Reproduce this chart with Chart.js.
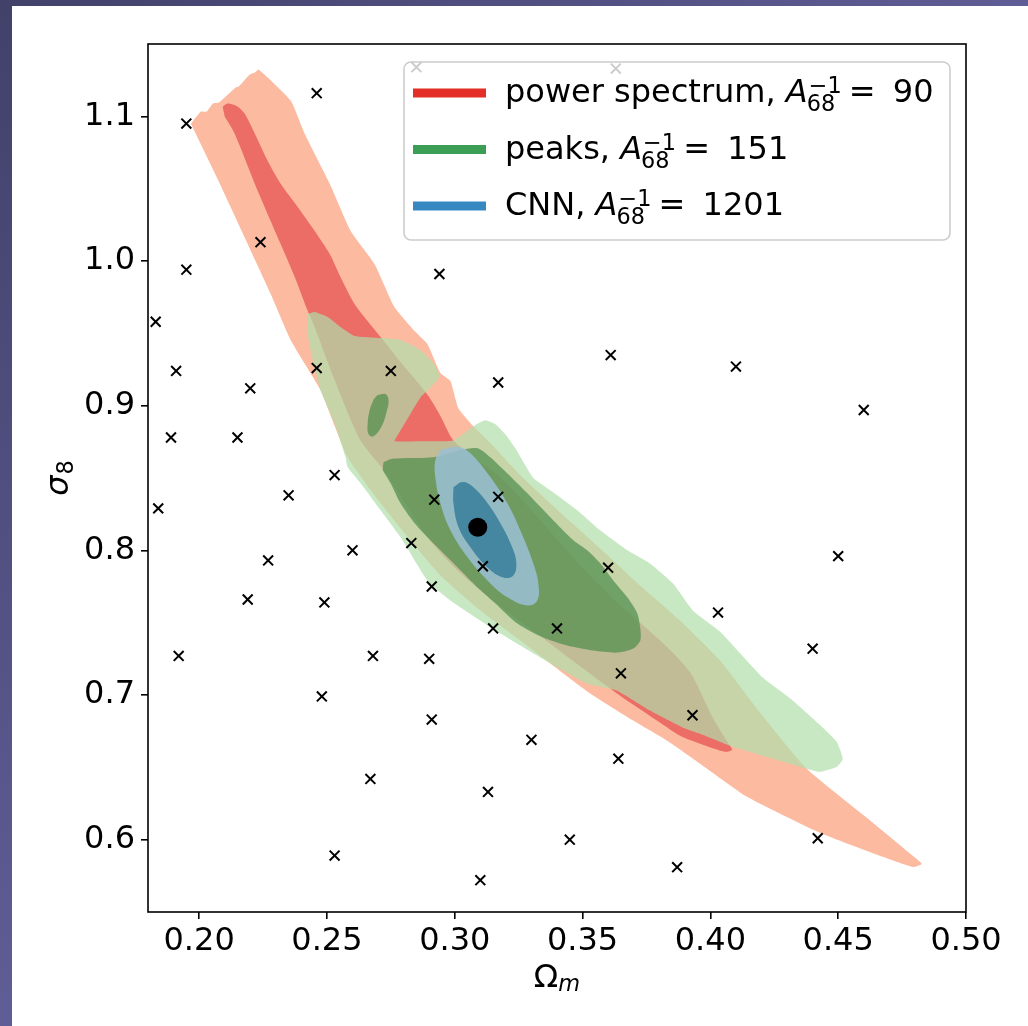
<!DOCTYPE html>
<html>
<head>
<meta charset="utf-8">
<script src="https://cdn.jsdelivr.net/npm/chart.js@4.4.1/dist/chart.umd.min.js"></script>
<style>
  html, body { margin: 0; padding: 0; }
  body {
    width: 1028px; height: 1026px; overflow: hidden;
    background: linear-gradient(135deg, #42416a 0%, #5f5d95 50%, #7c79b8 100%);
  }
  #panel { position: absolute; left: 12px; top: 6px; width: 1016px; height: 1020px; background: #fff; }
</style>
</head>
<body>
<div id="panel"><canvas id="contours" width="1016" height="1020"></canvas></div>
<script>
// axis ticks
const xTicks = [0.20, 0.25, 0.30, 0.35, 0.40, 0.45, 0.50];
const yTicks = [0.6, 0.7, 0.8, 0.9, 1.0, 1.1];

// legend rows
const legendNames = ['power spectrum', 'peaks', 'CNN'];
const legendA68 = [90, 151, 1201];
const legendColors = ['#e32f27', '#3a9f55', '#3787c0'];

// fiducial cosmology
const fiducial = [[0.309, 0.816]];

// simulated cosmologies (Omega_m, sigma_8)
const simPoints = [
  [0.195, 1.095], [0.285, 1.134], [0.363, 1.133], [0.246, 1.116], [0.224, 1.013],
  [0.195, 0.994], [0.294, 0.991], [0.183, 0.958], [0.191, 0.924], [0.246, 0.926],
  [0.275, 0.924], [0.220, 0.912], [0.317, 0.916], [0.361, 0.935], [0.410, 0.927],
  [0.460, 0.897], [0.189, 0.878], [0.215, 0.878], [0.235, 0.838], [0.253, 0.852],
  [0.184, 0.829], [0.292, 0.835], [0.317, 0.837], [0.283, 0.805], [0.260, 0.800],
  [0.227, 0.793], [0.311, 0.789], [0.360, 0.788], [0.450, 0.796], [0.291, 0.775],
  [0.219, 0.766], [0.249, 0.764], [0.403, 0.757], [0.315, 0.746], [0.340, 0.746],
  [0.192, 0.727], [0.268, 0.727], [0.290, 0.725], [0.440, 0.732], [0.365, 0.715],
  [0.248, 0.699], [0.393, 0.686], [0.291, 0.683], [0.330, 0.669], [0.364, 0.656],
  [0.267, 0.642], [0.313, 0.633], [0.253, 0.589], [0.345, 0.600], [0.387, 0.581],
  [0.310, 0.572], [0.442, 0.601]
];

// power spectrum contours (95% and 68%)
const psOuter = [
  [0.1968, 1.0949], [0.2007, 1.1033], [0.2030, 1.1033], [0.2054, 1.1088], [0.2077, 1.1095],
  [0.2143, 1.1199], [0.2155, 1.1206], [0.2198, 1.1289], [0.2218, 1.1303], [0.2233, 1.1324],
  [0.2358, 1.1109], [0.2413, 1.0880], [0.2511, 1.0534], [0.2593, 1.0208], [0.2686, 0.9980],
  [0.2764, 0.9682], [0.2843, 0.9516], [0.2893, 0.9426], [0.2944, 0.9225], [0.2983, 0.9170],
  [0.3014, 0.8983], [0.3069, 0.8865], [0.3140, 0.8740], [0.3257, 0.8518], [0.3413, 0.8262],
  [0.3569, 0.8013], [0.3725, 0.7757], [0.3881, 0.7515], [0.4038, 0.7238], [0.4194, 0.6878],
  [0.4377, 0.6490], [0.4612, 0.6151], [0.4792, 0.5888], [0.4827, 0.5832], [0.4792, 0.5811],
  [0.4663, 0.5888], [0.4428, 0.6047], [0.4143, 0.6296], [0.3960, 0.6525], [0.3831, 0.6684],
  [0.3698, 0.6823], [0.3530, 0.7010], [0.3374, 0.7218], [0.3257, 0.7376], [0.3100, 0.7584],
  [0.2944, 0.7826], [0.2827, 0.8069], [0.2710, 0.8325], [0.2581, 0.8643], [0.2475, 0.9107],
  [0.2417, 0.9279], [0.2358, 0.9454], [0.2280, 0.9772], [0.2190, 1.0118], [0.2081, 1.0534]
];
const psInner = [
  [0.2092, 1.1067], [0.2112, 1.1088], [0.2151, 1.1067], [0.2178, 1.1019], [0.2218, 1.0880],
  [0.2268, 1.0693], [0.2319, 1.0534], [0.2385, 1.0375], [0.2452, 1.0208], [0.2511, 1.0049],
  [0.2553, 0.9890], [0.2608, 0.9703], [0.2659, 0.9585], [0.2710, 0.9474], [0.2788, 0.9301],
  [0.2847, 0.9177], [0.2897, 0.9066], [0.2944, 0.8928], [0.2991, 0.8768], [0.3061, 0.8658],
  [0.3179, 0.8505], [0.3335, 0.8207], [0.3491, 0.7896], [0.3647, 0.7619], [0.3804, 0.7377],
  [0.3921, 0.7155], [0.4011, 0.6837], [0.4069, 0.6670], [0.4085, 0.6621], [0.4058, 0.6607],
  [0.3960, 0.6663], [0.3881, 0.6718], [0.3804, 0.6808], [0.3647, 0.6995], [0.3471, 0.7224],
  [0.3296, 0.7459], [0.3139, 0.7667], [0.3003, 0.7875], [0.2893, 0.8090], [0.2807, 0.8325],
  [0.2729, 0.8540], [0.2631, 0.8761], [0.2530, 0.9177], [0.2452, 0.9544], [0.2425, 0.9654],
  [0.2374, 0.9890], [0.2319, 1.0118], [0.2229, 1.0486], [0.2139, 1.0880], [0.2100, 1.0998]
];

// peak count contours
const peaksOuter = [
  [0.2425, 0.9633], [0.2452, 0.9647], [0.2503, 0.9613], [0.2553, 0.9544], [0.2608, 0.9481],
  [0.2710, 0.9467], [0.2788, 0.9454], [0.2866, 0.9384], [0.2917, 0.9294], [0.2940, 0.9211],
  [0.2929, 0.9170], [0.2902, 0.9121], [0.2870, 0.9066], [0.2835, 0.8969], [0.2800, 0.8865],
  [0.2772, 0.8782], [0.2764, 0.8754], [0.2866, 0.8754], [0.2990, 0.8758], [0.3042, 0.8817],
  [0.3085, 0.8872], [0.3120, 0.8900], [0.3159, 0.8872], [0.3198, 0.8803], [0.3237, 0.8706],
  [0.3276, 0.8588], [0.3308, 0.8498], [0.3374, 0.8415], [0.3479, 0.8277], [0.3569, 0.8138],
  [0.3675, 0.8000], [0.3764, 0.7909], [0.3854, 0.7770], [0.3932, 0.7583], [0.4038, 0.7438],
  [0.4206, 0.7119], [0.4314, 0.6974], [0.4428, 0.6794], [0.4494, 0.6676], [0.4518, 0.6558],
  [0.4494, 0.6503], [0.4428, 0.6469], [0.4377, 0.6490], [0.4206, 0.6580], [0.4077, 0.6649],
  [0.3960, 0.6732], [0.3893, 0.6774], [0.3764, 0.6892], [0.3635, 0.7030], [0.3518, 0.7079],
  [0.3374, 0.7218], [0.3178, 0.7426], [0.2983, 0.7654], [0.2893, 0.7792], [0.2788, 0.8090],
  [0.2710, 0.8277], [0.2632, 0.8464], [0.2581, 0.8575], [0.2573, 0.8643], [0.2530, 0.8879],
  [0.2475, 0.9107], [0.2436, 0.9384], [0.2421, 0.9523]
];
const peaksInner = [
  [0.2721, 0.8609], [0.2748, 0.8630], [0.2788, 0.8637], [0.2917, 0.8644], [0.3022, 0.8692],
  [0.3089, 0.8706], [0.3139, 0.8644], [0.3205, 0.8533], [0.3284, 0.8394], [0.3374, 0.8228],
  [0.3464, 0.8069], [0.3518, 0.8000], [0.3569, 0.7910], [0.3620, 0.7792], [0.3675, 0.7675],
  [0.3714, 0.7564], [0.3726, 0.7460], [0.3726, 0.7377], [0.3698, 0.7321], [0.3635, 0.7293],
  [0.3542, 0.7307], [0.3440, 0.7342], [0.3346, 0.7397], [0.3245, 0.7494], [0.3159, 0.7633],
  [0.3081, 0.7757], [0.2995, 0.7910], [0.2905, 0.8069], [0.2843, 0.8187], [0.2788, 0.8325],
  [0.2749, 0.8464], [0.2718, 0.8554]
];
const peaksIsland = [
  [0.2698, 0.9073], [0.2729, 0.9080], [0.2741, 0.9038], [0.2733, 0.8955], [0.2714, 0.8858],
  [0.2683, 0.8789], [0.2663, 0.8803], [0.2659, 0.8865], [0.2667, 0.8969], [0.2683, 0.9045]
];

// CNN contours
const cnnOuter = [
  [0.2983, 0.8713], [0.3022, 0.8713], [0.3061, 0.8671], [0.3128, 0.8533], [0.3206, 0.8325],
  [0.3268, 0.8090], [0.3307, 0.7910], [0.3327, 0.7771], [0.3323, 0.7654], [0.3284, 0.7619],
  [0.3206, 0.7675], [0.3128, 0.7792], [0.3050, 0.7952], [0.2983, 0.8138], [0.2944, 0.8325],
  [0.2924, 0.8505], [0.2924, 0.8623], [0.2944, 0.8692]
];
const cnnInner = [
  [0.3022, 0.8470], [0.3042, 0.8470], [0.3073, 0.8436], [0.3120, 0.8346], [0.3179, 0.8186],
  [0.3225, 0.8020], [0.3241, 0.7909], [0.3229, 0.7826], [0.3190, 0.7812], [0.3128, 0.7882],
  [0.3062, 0.8020], [0.3015, 0.8159], [0.2995, 0.8325], [0.2995, 0.8436]
];

const FONT = 'DejaVu Sans';
const SIZE = 32;
const SMALL = SIZE * 0.7;

Chart.defaults.font.family = FONT;
Chart.defaults.color = '#000';

function pts(pairs) {
  return pairs.map(p => ({x: p[0], y: p[1]}));
}

function contour(pairs, color, tension) {
  return {
    data: pts(pairs),
    showLine: true,
    fill: 'shape',
    backgroundColor: color,
    borderColor: 'rgba(0,0,0,0)',
    borderWidth: 0,
    pointRadius: 0,
    tension: tension || 0.25
  };
}

function roundedBox(ctx, x, y, w, h, r) {
  ctx.beginPath();
  ctx.moveTo(x + r, y);
  ctx.arcTo(x + w, y, x + w, y + h, r);
  ctx.arcTo(x + w, y + h, x, y + h, r);
  ctx.arcTo(x, y + h, x, y, r);
  ctx.arcTo(x, y, x + w, y, r);
  ctx.closePath();
}

// "name, A_68^-1 =  value", scripts placed by hand
function legendLabel(ctx, x, y, name, value) {
  ctx.font = SIZE + 'px ' + FONT;
  ctx.fillText(name + ', ', x, y);
  x += ctx.measureText(name + ', ').width;
  ctx.font = 'italic ' + SIZE + 'px ' + FONT;
  ctx.fillText('A', x, y);
  const aEnd = x + ctx.measureText('A').width;
  ctx.font = SMALL + 'px ' + FONT;
  ctx.fillText('\u22121', aEnd + 1, y - 9);
  ctx.fillText('68', aEnd - 1, y + 9);
  ctx.font = SIZE + 'px ' + FONT;
  ctx.fillText('=', x + 63, y);
  ctx.fillText(String(value), x + 107, y);
}

const decorations = {
  id: 'decorations',
  afterDraw(chart) {
    const ctx = chart.ctx;
    const a = chart.chartArea;
    ctx.save();

    // axes frame
    ctx.strokeStyle = '#000';
    ctx.lineWidth = 1.6;
    ctx.strokeRect(a.left, a.top, a.right - a.left, a.bottom - a.top);

    // legend box
    roundedBox(ctx, 392, 56, 546, 178, 7);
    ctx.fillStyle = 'rgba(255,255,255,0.8)';
    ctx.fill();
    ctx.strokeStyle = '#cccccc';
    ctx.lineWidth = 1.6;
    ctx.stroke();

    const rowY = [87, 143.5, 200];
    ctx.textBaseline = 'alphabetic';
    ctx.textAlign = 'left';
    legendNames.forEach((name, i) => {
      ctx.strokeStyle = legendColors[i];
      ctx.lineWidth = 9;
      ctx.lineCap = 'butt';
      ctx.beginPath();
      ctx.moveTo(401, rowY[i]);
      ctx.lineTo(474, rowY[i]);
      ctx.stroke();
      ctx.fillStyle = '#000';
      legendLabel(ctx, 493, rowY[i] + 9, name, legendA68[i]);
    });

    // x label: Omega_m
    ctx.fillStyle = '#000';
    ctx.font = SIZE + 'px ' + FONT;
    const wO = ctx.measureText('\u03A9').width;
    ctx.font = 'italic ' + SMALL + 'px ' + FONT;
    const wm = ctx.measureText('m').width;
    const x0 = (a.left + a.right) / 2 - (wO + wm) / 2;
    ctx.font = SIZE + 'px ' + FONT;
    ctx.fillText('\u03A9', x0, 981);
    ctx.font = 'italic ' + SMALL + 'px ' + FONT;
    ctx.fillText('m', x0 + wO, 985);

    // y label: sigma_8, rotated
    ctx.font = 'italic ' + SIZE + 'px ' + FONT;
    const ws = ctx.measureText('\u03C3').width + 1;
    ctx.font = SMALL + 'px ' + FONT;
    const w8 = ctx.measureText('8').width;
    ctx.translate(56, (a.top + a.bottom) / 2 + (ws + w8) / 2);
    ctx.rotate(-Math.PI / 2);
    ctx.font = 'italic ' + SIZE + 'px ' + FONT;
    ctx.fillText('\u03C3', 0, 0);
    ctx.font = SMALL + 'px ' + FONT;
    ctx.fillText('8', ws, 5);

    ctx.restore();
  }
};

new Chart(document.getElementById('contours'), {
  type: 'scatter',
  data: {
    datasets: [
      {data: pts(fiducial), pointStyle: 'circle', pointRadius: 9.5, backgroundColor: '#000', borderWidth: 0},
      {data: pts(simPoints), pointStyle: 'crossRot', pointRadius: 7, borderColor: '#000', backgroundColor: '#000', borderWidth: 2},
      contour(cnnInner, 'rgba(55,126,154,0.85)', 0.4),
      contour(cnnOuter, 'rgba(155,192,213,0.85)', 0.4),
      contour(peaksIsland, 'rgba(75,139,74,0.7)', 0.4),
      contour(peaksInner, 'rgba(75,139,74,0.7)'),
      contour(peaksOuter, 'rgba(175,222,169,0.7)', 0.15),
      contour(psInner, '#eb6d66'),
      contour(psOuter, '#fcbba1', 0.15)
    ]
  },
  options: {
    responsive: false,
    devicePixelRatio: 1,
    animation: false,
    layout: {padding: {left: 0, top: 38, right: 62, bottom: 0}},
    plugins: {legend: {display: false}, tooltip: {enabled: false}},
    scales: {
      x: {
        type: 'linear',
        min: 0.18,
        max: 0.50,
        afterBuildTicks: s => { s.ticks = xTicks.map(v => ({value: v})); },
        afterFit: s => { s.height = 114; },
        border: {display: false},
        grid: {drawOnChartArea: false, drawTicks: true, tickLength: 7, color: '#000', lineWidth: 1.6},
        ticks: {font: {size: SIZE}, color: '#000', padding: 3, maxRotation: 0, autoSkip: false,
                callback: v => v.toFixed(2)}
      },
      y: {
        type: 'linear',
        min: 0.55,
        max: 1.15,
        afterBuildTicks: s => { s.ticks = yTicks.map(v => ({value: v})); },
        afterFit: s => { s.width = 136; },
        border: {display: false},
        grid: {drawOnChartArea: false, drawTicks: true, tickLength: 7, color: '#000', lineWidth: 1.6},
        ticks: {font: {size: SIZE}, color: '#000', padding: 6, autoSkip: false,
                callback: v => v.toFixed(1)}
      }
    }
  },
  plugins: [decorations]
});
</script>
</body>
</html>
